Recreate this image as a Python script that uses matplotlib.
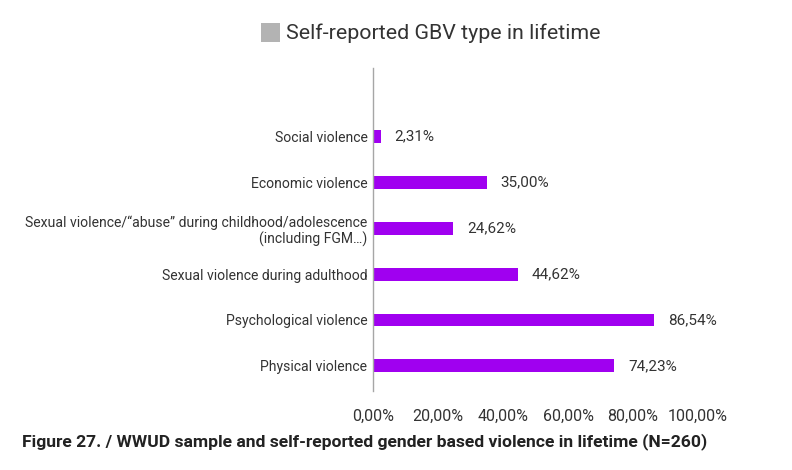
import matplotlib
matplotlib.use("Agg")
import matplotlib.pyplot as plt
from matplotlib.patches import Rectangle

plt.rcParams['font.family'] = ['Roboto', 'DejaVu Sans']

categories = [
    "Physical violence",
    "Psychological violence",
    "Sexual violence during adulthood",
    "Sexual violence/\u201cabuse\u201d during childhood/adolescence\n(including FGM\u2026)",
    "Economic violence",
    "Social violence",
]
values = [74.23, 86.54, 44.62, 24.62, 35.00, 2.31]
xticks = [0, 20, 40, 60, 80, 100]
title = "Self-reported GBV type in lifetime"
caption = "Figure 27. / WWUD sample and self-reported gender based violence in lifetime (N=260)"

W, H = 792, 470
fig = plt.figure(figsize=(W / 100, H / 100), dpi=100)
ax = fig.add_axes([373 / W, 1 - 391 / H, (698 - 373) / W, (391 - 68) / H])

bar_color = "#A000F0"
text_color = "#333333"
pos = list(range(len(categories)))
ax.barh(pos, values, height=0.28, color=bar_color)
ax.set_xlim(0, 100)
ax.set_ylim(-0.55, len(categories) + 0.5)

for p, v in zip(pos, values):
    ax.text(v + 4.3, p, f"{v:.2f}%".replace(".", ","), va="center", ha="left",
            fontsize=11, color=text_color)

ax.set_yticks(pos)
ax.set_yticklabels(categories, fontsize=10.1, color=text_color, multialignment="right")
ax.set_xticks(xticks)
ax.set_xticklabels([f"{t:.2f}%".replace(".", ",") for t in xticks], fontsize=11.5, color=text_color)
ax.tick_params(axis="both", length=0)
ax.tick_params(axis="y", pad=4)
ax.tick_params(axis="x", pad=13)
for s in ["top", "right", "bottom"]:
    ax.spines[s].set_visible(False)
ax.spines["left"].set_color("#A6A6A6")
ax.spines["left"].set_linewidth(1)

# title with legend square
fig.patches.append(Rectangle((261 / W, 1 - 42 / H), 19 / W, 19 / H, transform=fig.transFigure,
                             facecolor="#B3B3B3", edgecolor="none"))
fig.text(286 / W, 1 - 33 / H, title, fontsize=15.4, color=text_color, va="center", ha="left")

fig.text(22 / W, 1 - 442 / H, caption, fontsize=12.6, fontweight="bold", color="#222222",
         va="center", ha="left")

fig.savefig("out.png", dpi=100)
